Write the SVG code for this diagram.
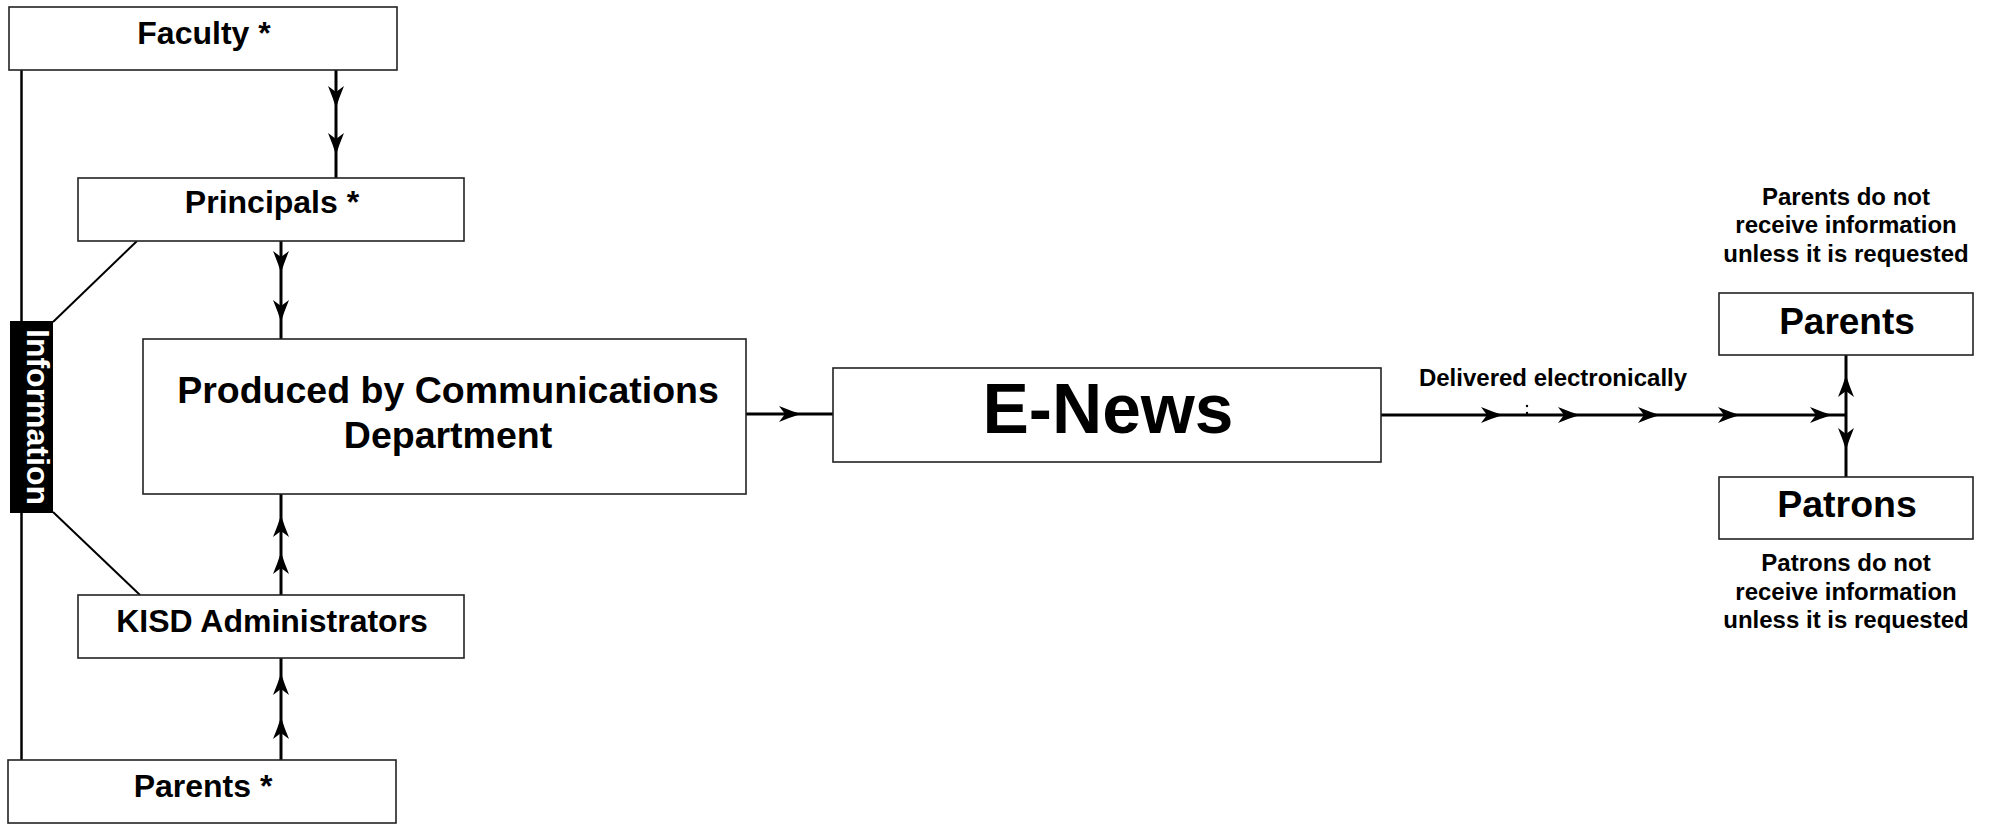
<svg xmlns="http://www.w3.org/2000/svg" width="1992" height="825" viewBox="0 0 1992 825">
  <style>
    .box { fill: #ffffff; stroke: #222222; stroke-width: 1.6; }
    .lbl { font-family: "Liberation Sans", Arial, sans-serif; font-weight: bold; fill: #000000; text-anchor: middle; }
    .conn { fill: none; stroke: #000000; stroke-width: 3; }
    .thin { fill: none; stroke: #000000; stroke-width: 2; }
  </style>
  <defs>
    <marker id="arr" markerUnits="userSpaceOnUse" markerWidth="26" markerHeight="18" viewBox="-23 -9 24 18" refX="0" refY="0" orient="auto">
      <path d="M0,0 Q-10,-3 -22,-8 L-16,0 L-22,8 Q-10,3 0,0 Z" fill="#000000"/>
    </marker>
  </defs>

  <rect width="1992" height="825" fill="#ffffff"/>

  <g id="connectors">
    <line class="thin" x1="21.5" y1="70" x2="21.5" y2="760" style="stroke-width:2.5"/>
    <line class="thin" x1="53" y1="322" x2="137" y2="241"/>
    <line class="thin" x1="53" y1="512" x2="140" y2="595"/>
    <path class="conn" d="M336,70 L336,108 L336,155 L336,178" marker-mid="url(#arr)"/>
    <path class="conn" d="M281,241 L281,273 L281,322 L281,339" marker-mid="url(#arr)"/>
    <path class="conn" d="M281,595 L281,552 L281,515 L281,494" marker-mid="url(#arr)"/>
    <path class="conn" d="M281,760 L281,717 L281,673 L281,658" marker-mid="url(#arr)"/>
    <path class="conn" d="M746,414 L801,414 L833,414" marker-mid="url(#arr)"/>
    <path class="conn" d="M1381,415 L1503,415 L1580,415 L1660,415 L1740,415 L1832,415 L1846,415" marker-mid="url(#arr)"/>
    <circle cx="1527" cy="406" r="1.2" fill="#000000"/>
    <circle cx="1527" cy="413" r="1.2" fill="#000000"/>
    <path class="conn" d="M1846,415 L1846,375 L1846,355" marker-mid="url(#arr)"/>
    <path class="conn" d="M1846,415 L1846,450 L1846,477" marker-mid="url(#arr)"/>
  </g>

  <g id="node-faculty">
    <rect class="box" x="9" y="7" width="388" height="63"/>
    <text class="lbl" x="204" y="44" font-size="32">Faculty *</text>
  </g>

  <g id="node-principals">
    <rect class="box" x="78" y="178" width="386" height="63"/>
    <text class="lbl" x="272" y="213" font-size="32">Principals *</text>
  </g>

  <g id="node-information">
    <rect x="10" y="321" width="43" height="192" fill="#000000"/>
    <text class="lbl" transform="translate(27,417) rotate(90)" font-size="32" style="fill:#ffffff">Information</text>
  </g>

  <g id="node-produced">
    <rect class="box" x="143" y="339" width="603" height="155"/>
    <text class="lbl" x="448" y="403" font-size="37.5">Produced by Communications</text>
    <text class="lbl" x="448" y="448" font-size="37.5">Department</text>
  </g>

  <g id="node-kisd">
    <rect class="box" x="78" y="595" width="386" height="63"/>
    <text class="lbl" x="272" y="632" font-size="32">KISD Administrators</text>
  </g>

  <g id="node-parents-star">
    <rect class="box" x="8" y="760" width="388" height="63"/>
    <text class="lbl" x="203" y="797" font-size="32">Parents *</text>
  </g>

  <g id="node-enews">
    <rect class="box" x="833" y="368" width="548" height="94"/>
    <text class="lbl" x="1108" y="433" font-size="69.5">E-News</text>
  </g>

  <g id="label-delivered">
    <text class="lbl" x="1553" y="386" font-size="24">Delivered electronically</text>
  </g>

  <g id="note-parents">
    <text class="lbl" x="1846" y="205" font-size="24">Parents do not</text>
    <text class="lbl" x="1846" y="233" font-size="24">receive information</text>
    <text class="lbl" x="1846" y="262" font-size="24">unless it is requested</text>
  </g>

  <g id="node-parents">
    <rect class="box" x="1719" y="293" width="254" height="62"/>
    <text class="lbl" x="1847" y="334" font-size="37">Parents</text>
  </g>

  <g id="node-patrons">
    <rect class="box" x="1719" y="477" width="254" height="62"/>
    <text class="lbl" x="1847" y="517" font-size="37.5">Patrons</text>
  </g>

  <g id="note-patrons">
    <text class="lbl" x="1846" y="571" font-size="24">Patrons do not</text>
    <text class="lbl" x="1846" y="600" font-size="24">receive information</text>
    <text class="lbl" x="1846" y="628" font-size="24">unless it is requested</text>
  </g>
</svg>
